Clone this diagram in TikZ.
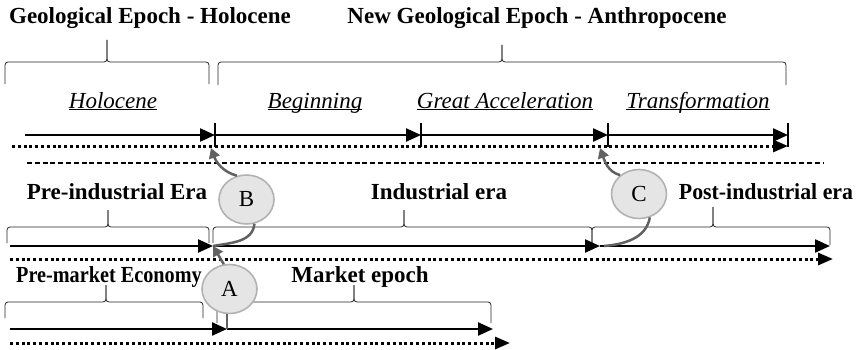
\documentclass[tikz,border=0pt]{standalone}
\usepackage{fontspec}
\setmainfont{Liberation Serif}
\usepackage{tikz}
\usetikzlibrary{arrows.meta}
\usetikzlibrary{shapes.geometric}

\newcommand{\epochbrace}[6]{%
	\draw[brace line] (#1,#4) -- (#1,#5) -- (#2,#5) -- (#2,#6);
	\draw[brace line] (#3,#4) -- (#3,#5) -- (#2,#5) -- (#2,#6);
}
\newcommand{\phaselabel}[1]{\underline{\smash{\textit{#1}}}}

\tikzset{
	brace line/.style={black!85,line width=0.8pt,rounded corners=3pt},
	timeline/.style={draw=black,line width=2.3pt,-{Triangle[length=15pt,width=13pt]}},
	dotline/.style={draw=black,line width=3pt,dash pattern=on 3pt off 2.8pt,-{Triangle[length=15pt,width=12pt]}},
	tickmark/.style={draw=black,line width=1.1pt},
	shiftnode/.style={ellipse,draw=gray!60,line width=1.6pt,fill=gray!20,minimum width=55pt,minimum height=49pt,inner sep=0pt},
	shiftarrow/.style={draw=black!62,line width=2.5pt,-{Triangle[length=10pt,width=11pt]}},
	shiftline/.style={draw=black!62,line width=2.5pt}
}

\begin{document}
\begin{tikzpicture}[x=1pt,y=1pt,every node/.style={font=\fontsize{23}{27}\selectfont}]
	\useasboundingbox (0,0) rectangle (862,349);

	\begin{scope}[every node/.append style={font=\fontsize{23}{27}\selectfont\bfseries,anchor=base}]
	\node (holoT) at (150,325) {Geological Epoch - Holocene};
	\node (anthT) at (537,325) {New Geological Epoch - Anthropocene};
	\node (preind) at (117,150) {Pre-industrial Era};
	\node (ind) at (439,150) {Industrial era};
	\node[xscale=0.95] (postind) at (766,150) {Post-industrial era};
	\node[xscale=0.88] (premkt) at (109,67) {Pre-market Economy};
	\node (mkt) at (360,67) {Market epoch};
	\end{scope}

	\begin{scope}[every node/.append style={anchor=base}]
	\node (holo) at (113,241) {\phaselabel{Holocene}};
	\node (begin) at (315,241) {\phaselabel{Beginning}};
	\node (accel) at (505,241) {\phaselabel{Great Acceleration}};
	\node (transf) at (698,241) {\phaselabel{Transformation}};
	\end{scope}

	\epochbrace{5}{107}{209}{265}{287}{309}
	\epochbrace{218}{502}{786}{264}{287}{304}
	\epochbrace{7}{108}{209}{106}{122}{139}
	\epochbrace{213}{404}{592}{106}{122}{139}
	\epochbrace{592}{713}{830}{104}{122}{142}
	\epochbrace{5}{106}{203}{31}{47}{64}
	\epochbrace{217}{354}{491}{26}{47}{64}

	\coordinate (g0) at (25,214);
	\coordinate (g1) at (215,214);
	\coordinate (g2) at (421,214);
	\coordinate (g3) at (608,214);
	\coordinate (g4) at (788,214);
	\coordinate (gd0) at (12,203);
	\coordinate (gd1) at (788,203);
	\coordinate (sep0) at (27,186);
	\coordinate (sep1) at (823,186);
	\coordinate (i0) at (10,103);
	\coordinate (i1) at (213,103);
	\coordinate (i2) at (600,103);
	\coordinate (i3) at (830,103);
	\coordinate (id0) at (10,90);
	\coordinate (id1) at (833,90);
	\coordinate (m0) at (10,20);
	\coordinate (m1) at (227,20);
	\coordinate (m2) at (493,20);
	\coordinate (md0) at (10,6);
	\coordinate (md1) at (510,6);
	\coordinate (bTip) at (211,201);
	\coordinate (cTip) at (600,201);

	\path (g0) edge [timeline] (g1);
	\path (g1) edge [timeline] (g2);
	\path (g2) edge [timeline] (g3);
	\path (g3) edge [timeline] (g4);
	\foreach \t in {g1,g2,g3,g4}
		\draw[tickmark] ([yshift=12pt]\t) -- ([yshift=-12pt]\t);
	\path (gd0) edge [dotline] (gd1);
	\draw [line width=1.3pt,dash pattern=on 5pt off 2.8pt] (sep0) -- (sep1);

	\path (i0) edge [timeline] (i1);
	\path (i1) edge [timeline] (i2);
	\path (i2) edge [timeline] (i3);
	\path (id0) edge [dotline] (id1);

	\path (m0) edge [timeline] (m1);
	\path (m1) edge [timeline] (m2);
	\path (md0) edge [dotline] (md1);

	\node[shiftnode] (B) at (246.5,149.5) {B};
	\node[shiftnode] (A) at (229.5,60) {A};
	\node[shiftnode] (C) at (639,155) {C};

	\draw [shiftarrow] (B.112) to [out=165, in=-70] (bTip);
	\draw [shiftline] (B.-72) to [out=-95, in=10] (i1);
	\path (A.103) edge [shiftarrow] (i1);
	\draw [shiftline] (A.south -| m1) -- (m1);
	\draw [shiftarrow] (C.135) to [out=165, in=-70] (cTip);
	\draw [shiftline] (C.-65) to [out=-100, in=5] ([xshift=4pt]i2);
\end{tikzpicture}
\end{document}
